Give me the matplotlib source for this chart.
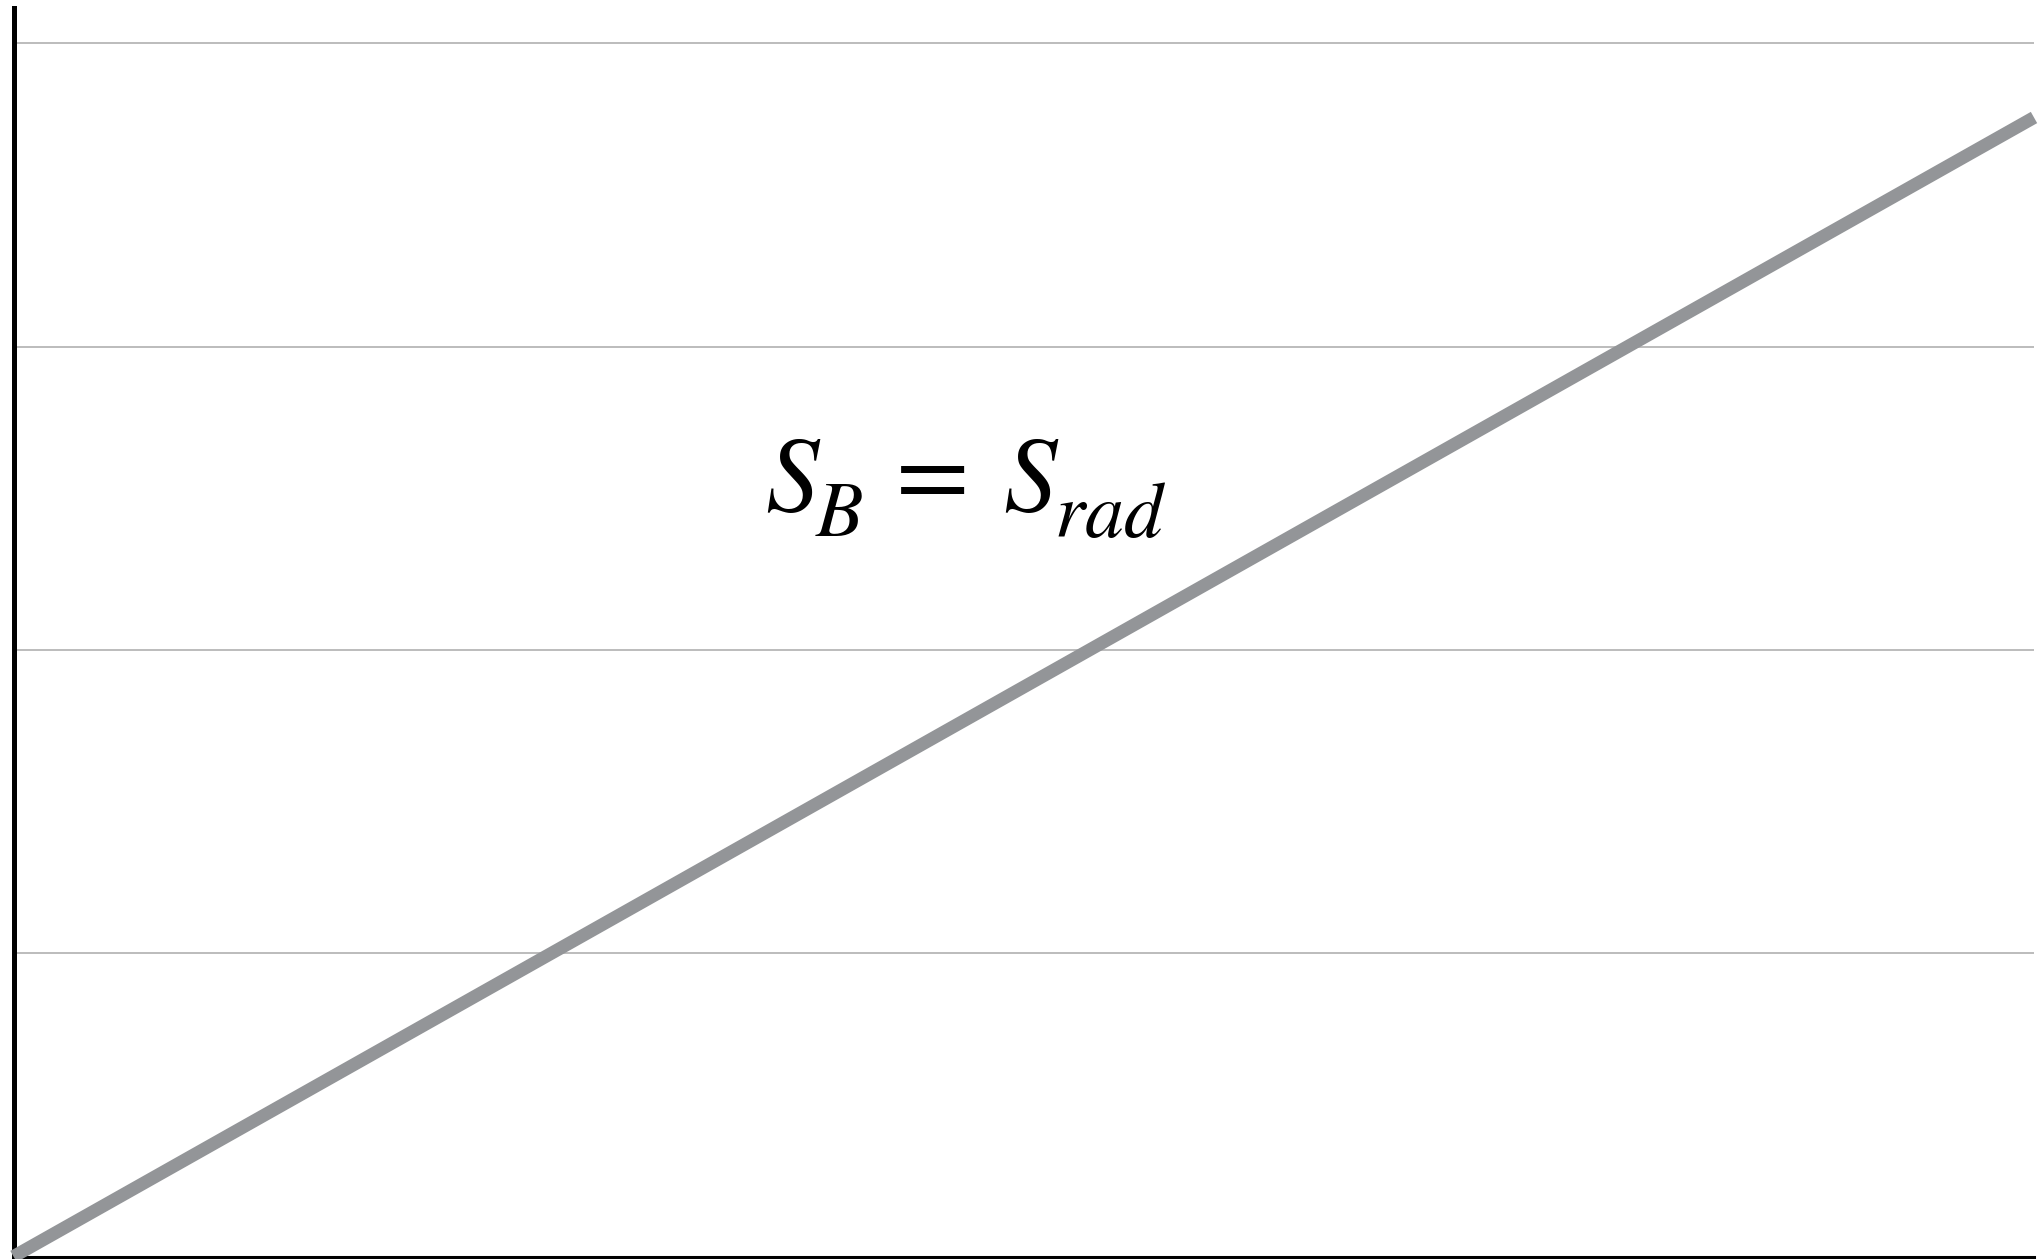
import matplotlib.pyplot as plt; plt.rcdefaults()
import matplotlib.transforms as mtransforms
import numpy as np

plt.rcParams['mathtext.fontset'] = 'stix'

# straight-line relation, no tick labels shown
x_vals = [0.0, 1.0]
y_vals = [0.0, 3.755]
grid_levels = [0, 1, 2, 3, 4]

# equation pieces: (text, font size, x offset px, y offset px)
eq_parts = [
    (r'$S$', 77, 0, 0),
    (r'$B$', 56, 50, -26),
    (r'$=$', 77, 115, 5),
    (r'$S$', 77, 238, 0),
    (r'$rad$', 56, 289, -27),
]

fig = plt.figure(figsize=(20.39, 12.59), dpi=100)
ax = fig.add_axes([13.5 / 2039, 2.5 / 1259, (2034 - 13.5) / 2039, (1256.5 - 8) / 1259])

ax.plot(x_vals, y_vals, color='#939598', linewidth=9.3, solid_capstyle='butt',
        zorder=5, clip_on=False)

ax.set_xlim(0, 1)
ax.set_ylim(0, 4.116)
ax.set_yticks(grid_levels)
ax.set_xticks([])
ax.yaxis.grid(True, color='#bdbdbd', linewidth=1.44)
ax.set_axisbelow(True)
ax.tick_params(axis='y', length=0, labelleft=False)

for side in ['top', 'right']:
    ax.spines[side].set_visible(False)
ax.spines['left'].set_linewidth(3.6)
ax.spines['bottom'].set_linewidth(2.2)

# S_B = S_rad, set piece by piece so the subscripts sit lower
for txt, size, dx, dy in eq_parts:
    tr = ax.transData + mtransforms.ScaledTranslation(dx / 100, dy / 100, fig.dpi_scale_trans)
    ax.text(0.3719, 2.461, txt, fontsize=size, ha='left', va='baseline', transform=tr)

plt.savefig('out.png', dpi=100)
